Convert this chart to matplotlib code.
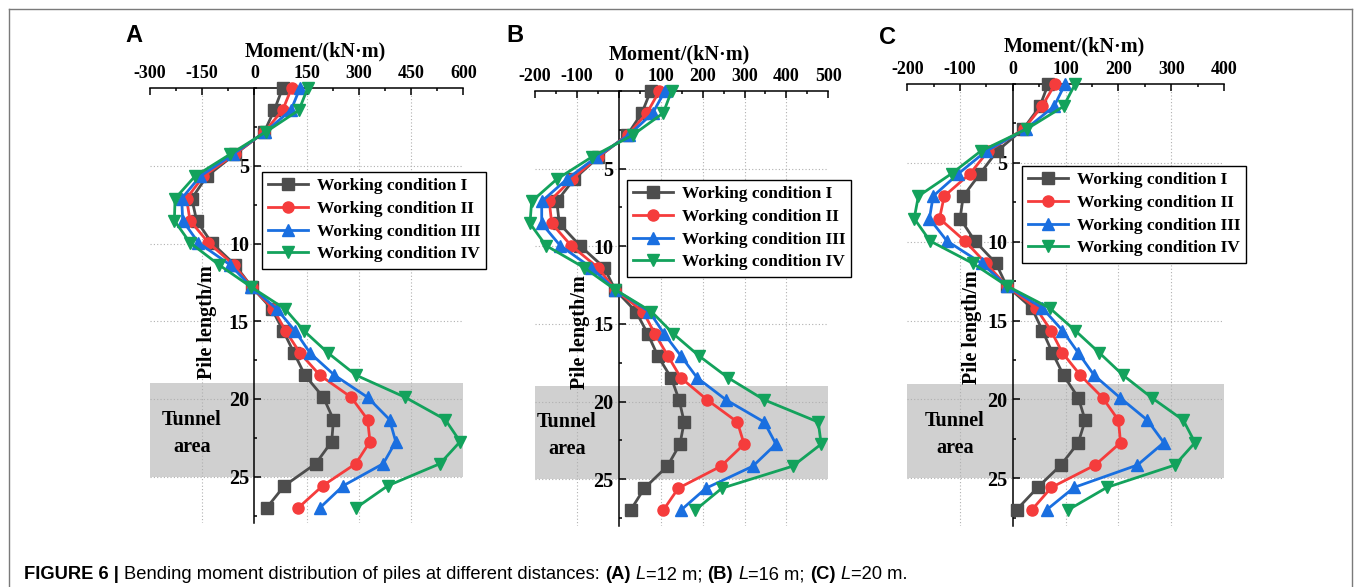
import matplotlib
matplotlib.use("Agg")
import matplotlib.pyplot as plt
from matplotlib.ticker import MultipleLocator
from matplotlib.lines import Line2D
from matplotlib.transforms import blended_transform_factory
from matplotlib import font_manager

plt.rcParams["axes.unicode_minus"] = False
SERIF = "Liberation Serif"

W, H = 1355, 587

# pile depth of the monitoring nodes (m)
depth = [0, 1.42, 2.84, 4.26, 5.68, 7.11, 8.53, 9.95, 11.37, 12.79,
         14.21, 15.63, 17.05, 18.47, 19.89, 21.32, 22.74, 24.16, 25.58, 27.0]

labels = ["Working condition I", "Working condition II",
          "Working condition III", "Working condition IV"]

# bending moment (kN·m), L = 12 m
a_wc1 = [81, 57, 28, -56, -137, -180, -166, -123, -56, -8, 50, 83, 114, 145, 198, 227, 222, 176, 86, 35]
a_wc2 = [107, 81, 28, -57, -147, -195, -185, -132, -60, -8, 54, 90, 131, 188, 278, 325, 332, 291, 196, 126]
a_wc3 = [131, 105, 30, -62, -156, -209, -206, -161, -70, -9, 64, 117, 160, 230, 325, 388, 406, 370, 255, 188]
a_wc4 = [153, 128, 32, -70, -171, -228, -230, -185, -102, -10, 88, 143, 212, 292, 433, 548, 591, 533, 383, 292]

# L = 16 m
b_wc1 = [76, 55, 20, -49, -107, -148, -142, -93, -35, -9, 41, 69, 93, 125, 144, 156, 146, 116, 61, 28]
b_wc2 = [97, 67, 21, -50, -112, -166, -160, -114, -50, -9, 58, 86, 117, 148, 211, 283, 299, 244, 142, 106]
b_wc3 = [110, 81, 24, -54, -124, -184, -184, -140, -66, -9, 73, 108, 148, 187, 256, 347, 375, 320, 208, 148]
b_wc4 = [126, 106, 33, -65, -148, -208, -212, -174, -83, -9, 78, 130, 191, 261, 347, 476, 483, 415, 246, 182]

# L = 20 m
c_wc1 = [67, 51, 20, -30, -62, -94, -100, -72, -32, -12, 36, 56, 75, 96, 124, 137, 124, 91, 47, 7]
c_wc2 = [80, 55, 21, -47, -81, -130, -139, -91, -51, -12, 44, 72, 94, 128, 170, 200, 204, 156, 73, 36]
c_wc3 = [99, 78, 25, -51, -103, -151, -158, -125, -59, -12, 56, 94, 124, 154, 203, 255, 286, 236, 116, 64]
c_wc4 = [118, 96, 27, -61, -116, -179, -187, -157, -76, -12, 70, 118, 164, 209, 263, 323, 345, 307, 178, 105]

tunnel_top, tunnel_bottom = 19, 25

colors = ["#4d4d4d", "#f53c3c", "#1a6fe0", "#13a25c"]
markers = ["s", "o", "^", "v"]

# panel layout in pixels: (left, top, width, height)
panels = [
    dict(letter="A", data=[a_wc1, a_wc2, a_wc3, a_wc4], xlim=(-300, 600), major=150,
         box=(150, 88, 313.3, 435.4), letter_xy=(134, 36), xlab=(0.527, 1.083),
         ylab=(0.182, 0.463), tunnel_x=0.134, legend_xy=(262, 172)),
    dict(letter="B", data=[b_wc1, b_wc2, b_wc3, b_wc4], xlim=(-200, 500), major=100,
         box=(535, 91, 293.3, 434.8), letter_xy=(515, 35), xlab=(0.491, 1.083),
         ylab=(0.153, 0.446), tunnel_x=0.109, legend_xy=(627, 180)),
    dict(letter="C", data=[c_wc1, c_wc2, c_wc3, c_wc4], xlim=(-200, 400), major=100,
         box=(907.3, 84, 316.7, 441.6), letter_xy=(887, 37), xlab=(0.526, 1.085),
         ylab=(0.203, 0.45), tunnel_x=0.15, legend_xy=(1022, 166)),
]

fig = plt.figure(figsize=(W / 100, H / 100), dpi=100)

for p in panels:
    l, t, w, h = p["box"]
    ax = fig.add_axes([l / W, 1 - (t + h) / H, w / W, h / H])
    lo, hi = p["xlim"]
    ax.set_xlim(lo, hi)
    ax.set_ylim(28, 0)

    ax.axhspan(tunnel_top, tunnel_bottom, color="#d0d0d0", lw=0, zorder=0)

    # dotted grid, skipping the frame edges and the zero axis
    for v in range(lo + p["major"], hi, p["major"]):
        if v != 0:
            ax.axvline(v, ls=(0, (1, 2)), color="#b0b0b0", lw=0.8, zorder=1)
    for d in (5, 10, 15, 20, 25):
        ax.axhline(d, ls=(0, (1, 2)), color="#b0b0b0", lw=0.8, zorder=1)

    for vals, c, m, lab in zip(p["data"], colors, markers, labels):
        ax.plot(vals, depth, color=c, marker=m, ms=8 if m in "so" else 9,
                lw=2.0, label=lab, zorder=3, clip_on=False)

    for s in ("right", "bottom"):
        ax.spines[s].set_visible(False)
    ax.spines["left"].set_position(("data", 0))
    for s in ("left", "top"):
        ax.spines[s].set_linewidth(1.1)
    ax.xaxis.set_ticks_position("top")
    ax.xaxis.set_major_locator(MultipleLocator(p["major"]))
    ax.xaxis.set_minor_locator(MultipleLocator(p["major"] / 2))
    ax.set_yticks([5, 10, 15, 20, 25])
    ax.yaxis.set_minor_locator(MultipleLocator(2.5))
    ax.tick_params(which="both", direction="in", width=1.1)
    ax.tick_params(which="major", length=5, pad=4)
    ax.tick_params(which="minor", length=2.5)
    for tl in ax.get_xticklabels():
        tl.set_fontfamily(SERIF)
        tl.set_fontweight("bold")
        tl.set_fontsize(13)
    for tl in ax.get_yticklabels():
        tl.set_fontfamily(SERIF)
        tl.set_fontweight("bold")
        tl.set_fontsize(14.5)

    ax.text(*p["xlab"], "Moment/(kN·m)", transform=ax.transAxes, ha="center",
            va="center", family=SERIF, weight="bold", fontsize=14.5)
    ax.text(*p["ylab"], "Pile length/m", transform=ax.transAxes, ha="center",
            va="center", rotation=90, family=SERIF, weight="bold", fontsize=14.5)
    tr = blended_transform_factory(ax.transAxes, ax.transData)
    ax.text(p["tunnel_x"], 22.2, "Tunnel\narea", transform=tr, ha="center",
            va="center", family=SERIF, weight="bold", fontsize=14.5, linespacing=1.45)

    lx, ly = p["legend_xy"]
    leg = ax.legend(loc="upper left", bbox_to_anchor=(lx / W, 1 - ly / H),
                    bbox_transform=fig.transFigure, borderaxespad=0, frameon=True,
                    fancybox=False, edgecolor="black", framealpha=1,
                    prop=dict(family=SERIF, weight="bold", size=12.5),
                    handlelength=2.3, labelspacing=0.38, borderpad=0.35,
                    handletextpad=0.5)
    leg.get_frame().set_linewidth(1.0)
    leg.set_zorder(5)

    fig.text(p["letter_xy"][0] / W, 1 - p["letter_xy"][1] / H, p["letter"],
             ha="center", va="center", family="Liberation Sans", weight="bold",
             fontsize=17)

# thin frame around the figure body
frame = dict(transform=fig.transFigure, color="#7a7a7a", lw=1.0)
fig.add_artist(Line2D([9 / W, 1352 / W], [1 - 9 / H, 1 - 9 / H], **frame))
fig.add_artist(Line2D([9 / W, 9 / W], [1 - 9 / H, 0], **frame))
fig.add_artist(Line2D([1352 / W, 1352 / W], [1 - 9 / H, 0], **frame))

# caption with mixed weights
installed = {f.name for f in font_manager.fontManager.ttflist}
cap_font = "Liberation Sans Narrow" if "Liberation Sans Narrow" in installed else "Liberation Sans"
caption = [("FIGURE 6 | ", "bold", "normal"),
           ("Bending moment distribution of piles at different distances: ", "normal", "normal"),
           ("(A)", "bold", "normal"), (" ", "normal", "normal"), ("L", "normal", "italic"),
           ("=12 m; ", "normal", "normal"),
           ("(B)", "bold", "normal"), (" ", "normal", "normal"), ("L", "normal", "italic"),
           ("=16 m; ", "normal", "normal"),
           ("(C)", "bold", "normal"), (" ", "normal", "normal"), ("L", "normal", "italic"),
           ("=20 m.", "normal", "normal")]
renderer = fig.canvas.get_renderer()
x = 24
for s, wt, st in caption:
    t = fig.text(x / W, 1 - 579 / H, s, family=cap_font, weight=wt, style=st,
                 fontsize=13.2, va="baseline", ha="left")
    x += t.get_window_extent(renderer).width

fig.savefig("out.png", dpi=100)
